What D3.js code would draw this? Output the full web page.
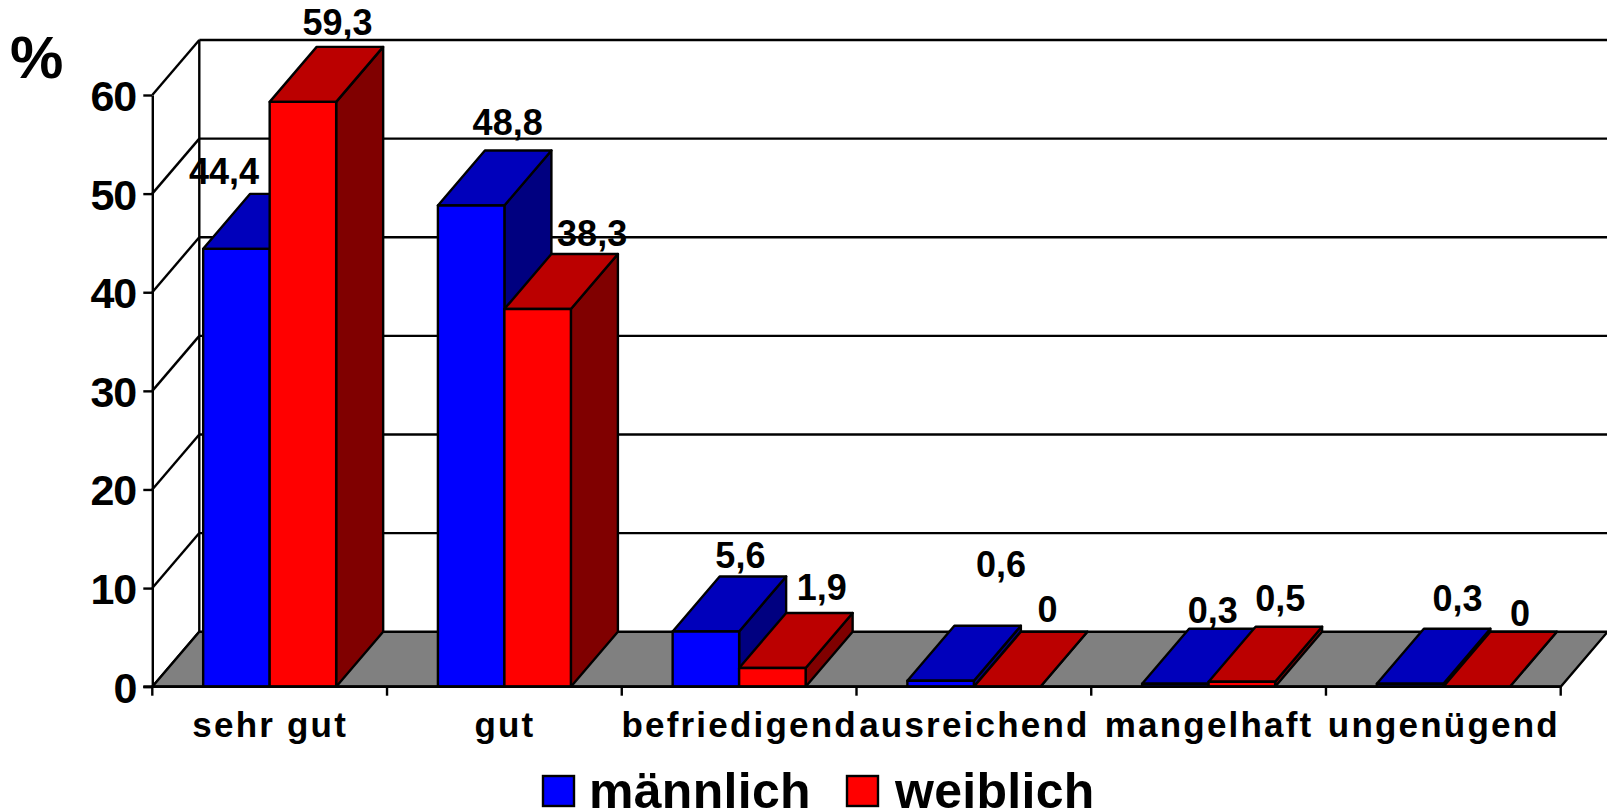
<!DOCTYPE html>
<html><head><meta charset="utf-8">
<script src="https://cdn.jsdelivr.net/npm/d3@7"></script>
<style>html,body{margin:0;padding:0;background:#fff}svg{display:block}
text{font-family:"Liberation Sans",Arial,sans-serif;font-weight:bold;fill:#000}</style>
</head><body><div id="chart"></div>
<script>
const categories = ["sehr gut","gut","befriedigend","ausreichend","mangelhaft","ungenügend"];
const seriesNames = ["männlich","weiblich"];
const maennlich = [44.4,48.8,5.6,0.6,0.3,0.3];
const weiblich = [59.3,38.3,1.9,0,0.5,0];
const yTicks = [0,10,20,30,40,50,60];
const unitLabel = "%";

// layout only: hand-placed label shifts seen in the picture
const nudgeM = [[-36,-5],[13,-10],[11,-3.5],[37,-44],[14,-1],[24,-13]];
const nudgeW = [[11,-7],[31,-3],[26,-8],[17,-5],[15,-11],[20,-1]];
const palette = {
  "männlich":{front:"#0000ff",top:"#0000bb",side:"#000080"},
  "weiblich":{front:"#ff0000",top:"#bb0000",side:"#800000"}
};

const W=1607,H=812,left=152.3,right=1560.7,base=686.7,topY=95,dx=47,dy=55,sw=2.4;
const svg=d3.select("#chart").append("svg").attr("width",W).attr("height",H).attr("viewBox",`0 0 ${W} ${H}`);
const x=d3.scaleBand().domain(categories).range([left,right]);
const xInner=d3.scaleBand().domain(seriesNames).range([0,x.bandwidth()]).paddingInner(0).paddingOuter(0.765);
const y=d3.scaleLinear().domain([0,60]).range([base,topY]);
const poly=p=>p.map(d=>d.join(",")).join(" ");

// back wall + side wall grid
const grid=svg.append("g").attr("stroke","#000").attr("stroke-width",sw).attr("fill","none");
grid.selectAll("line.h").data(yTicks.slice(1)).join("line").attr("class","h")
  .attr("x1",left+dx).attr("x2",right+dx).attr("y1",d=>y(d)-dy).attr("y2",d=>y(d)-dy);
grid.selectAll("line.d").data(yTicks).join("line").attr("class","d")
  .attr("x1",left).attr("x2",left+dx).attr("y1",d=>y(d)).attr("y2",d=>y(d)-dy);
grid.append("line").attr("x1",left+dx).attr("x2",left+dx).attr("y1",y(60)-dy).attr("y2",y(0)-dy);

// floor
svg.append("polygon").attr("fill","#808080").attr("stroke","#000").attr("stroke-width",sw)
  .attr("points",poly([[left,base],[right,base],[right+dx,base-dy],[left+dx,base-dy]]));

// axes
const yAxis=d3.axisLeft(y).tickValues(yTicks).tickSize(9).tickSizeOuter(0).tickPadding(7);
const gy=svg.append("g").attr("transform",`translate(${left},0)`).call(yAxis);
gy.selectAll("path,line").attr("stroke","#000").attr("stroke-width",sw);
gy.selectAll("text").style("font-size","43px").style("letter-spacing","-1px").attr("dy","15.5px");

// bars
const rows=[];
categories.forEach((c,i)=>{
  rows.push({c,s:seriesNames[0],v:maennlich[i],n:nudgeM[i]});
  rows.push({c,s:seriesNames[1],v:weiblich[i],n:nudgeW[i]});
});
const bars=svg.append("g").attr("stroke","#000").attr("stroke-width",sw).attr("stroke-linejoin","round");
rows.forEach(r=>{
  const x0=x(r.c)+xInner(r.s),x1=x0+xInner.bandwidth(),yt=y(r.v),col=palette[r.s];
  bars.append("polygon").attr("fill",col.side).attr("points",poly([[x1,base],[x1+dx,base-dy],[x1+dx,yt-dy],[x1,yt]]));
  bars.append("polygon").attr("fill",col.top).attr("points",poly([[x0,yt],[x1,yt],[x1+dx,yt-dy],[x0+dx,yt-dy]]));
  bars.append("rect").attr("fill",col.front).attr("x",x0).attr("y",yt).attr("width",x1-x0).attr("height",base-yt);
});

// x axis over the bars
const xTickPos=d3.range(categories.length+1).map(i=>left+i*x.step());
svg.append("line").attr("x1",left-9).attr("x2",right).attr("y1",base).attr("y2",base).attr("stroke","#000").attr("stroke-width",2.8);
svg.selectAll("line.xt").data(xTickPos).join("line").attr("class","xt")
  .attr("x1",d=>d).attr("x2",d=>d).attr("y1",base).attr("y2",base+9).attr("stroke","#000").attr("stroke-width",sw);
svg.selectAll("text.xl").data(categories).join("text").attr("class","xl")
  .attr("x",d=>x(d)+x.bandwidth()/2+0.5).attr("y",737).attr("text-anchor","middle")
  .style("font-size","35px").style("letter-spacing","2.2px").text(d=>d);

// data labels
svg.selectAll("text.dl").data(rows).join("text").attr("class","dl")
  .attr("x",d=>x(d.c)+xInner(d.s)+xInner.bandwidth()/2+dx/2+d.n[0])
  .attr("y",d=>y(d.v)-dy-5+d.n[1]).attr("text-anchor","middle")
  .style("font-size","36px").text(d=>String(d.v).replace(".",","));

// unit
svg.append("text").attr("x",10).attr("y",78).style("font-size","60px").text(unitLabel);

// legend
const legX=[543,847],legT=[589,895];
seriesNames.forEach((s,i)=>{
  svg.append("rect").attr("x",legX[i]).attr("y",776).attr("width",31).attr("height",30)
    .attr("fill",palette[s].front).attr("stroke","#000").attr("stroke-width",sw);
  svg.append("text").attr("x",legT[i]).attr("y",808).style("font-size","50px").style("letter-spacing","0.3px").text(s);
});
</script></body></html>
